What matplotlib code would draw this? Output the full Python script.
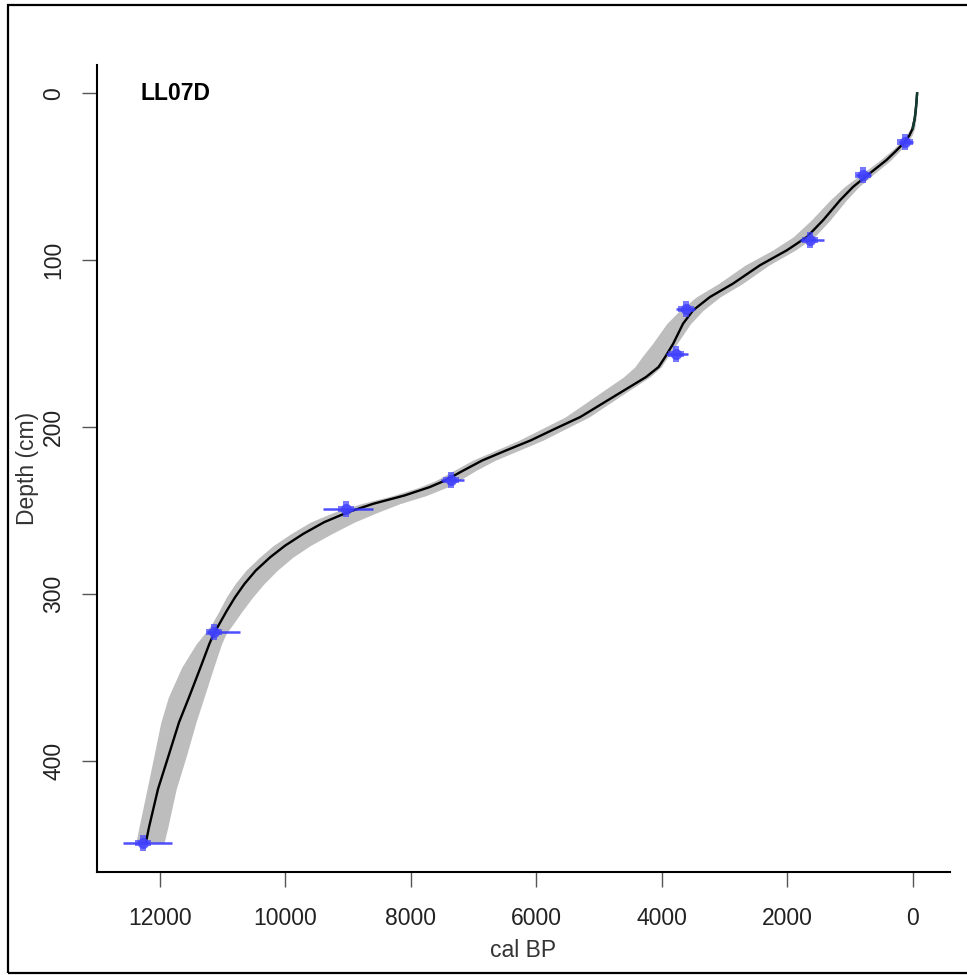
import matplotlib.pyplot as plt
import numpy as np
from matplotlib.patches import Rectangle

plt.rcParams['font.family'] = ['Liberation Sans', 'DejaVu Sans']

# age-depth model (depth in cm, age in cal BP)
model_depth = [0, 5, 10, 15, 21, 25, 29, 35, 40, 49, 56, 64, 76, 86, 94, 103, 114,
               122, 130, 138, 150, 158, 164, 170, 178, 186, 194, 201, 208, 214, 220,
               226, 232, 236, 241, 246, 251, 257, 264, 271, 278, 286, 294, 302, 310,
               318, 324, 330, 344, 362, 377, 398, 417, 440, 449]
model_age = [-70, -60, -48, -32, 0, 50, 123, 280, 420, 720, 950, 1157, 1428, 1685,
             2004, 2434, 2864, 3230, 3500, 3660, 3817, 3945, 4050, 4250, 4600, 4950,
             5300, 5700, 6090, 6480, 6860, 7160, 7450, 7700, 8100, 8600, 9000, 9380,
             9713, 10000, 10239, 10470, 10650, 10800, 10930, 11050, 11140, 11210,
             11350, 11534, 11693, 11868, 12028, 12172, 12220]
# envelope half-widths (years older / younger than the model)
env_older = [5, 10, 15, 25, 40, 50, 60, 80, 100, 120, 140, 160, 190, 220, 230, 240,
             230, 220, 210, 260, 330, 370, 380, 360, 320, 280, 240, 210, 190, 170,
             160, 150, 150, 160, 180, 200, 220, 220, 200, 190, 170, 160, 150, 140,
             120, 120, 150, 210, 300, 330, 290, 230, 175, 160, 160]
env_younger = [5, 10, 15, 20, 30, 40, 50, 60, 70, 80, 90, 100, 110, 120, 130, 140,
               150, 160, 160, 120, 60, 40, 40, 60, 80, 110, 140, 170, 190, 200, 200,
               200, 220, 280, 350, 420, 480, 480, 450, 400, 360, 340, 310, 280, 250,
               220, 195, 195, 210, 240, 270, 285, 290, 300, 290]

# dated samples
date_depth = [29, 49, 88, 129, 156, 232, 249, 323, 449]
date_age = [123, 790, 1635, 3608, 3768, 7364, 9035, 11137, 12267]
date_err_old = [90, 120, 160, 170, 170, 160, 370, 110, 320]
date_err_young = [120, 120, 220, 140, 180, 210, 430, 420, 470]

age = np.array(model_age)
fig = plt.figure(figsize=(9.67, 9.75), dpi=100)
ax = fig.add_axes([0.1003, 0.1056, 0.8821, 0.8277])

ax.fill_betweenx(model_depth, age - np.array(env_younger), age + np.array(env_older),
                 color='#bdbdbd', lw=0, zorder=1)
ax.plot(model_age, model_depth, color='black', lw=1.7, zorder=2, solid_joinstyle='round')
ax.plot(model_age[:5], model_depth[:5], color='#123c32', lw=1.7, zorder=2)
ax.errorbar(date_age, date_depth, xerr=[date_err_young, date_err_old], fmt='none',
            ecolor='#3030ff', elinewidth=1.8, capsize=0, alpha=0.85, zorder=3)
ax.plot(date_age, date_depth, 'o', color='#4040ff', ms=8, mew=0, alpha=0.8, zorder=4)
ax.plot(date_age, date_depth, 'P', color='#4040ff', ms=11, mew=0, alpha=0.7, zorder=4)

ax.set_xlim(13000, -594)
ax.set_ylim(466.7, -17)
ax.set_xticks([12000, 10000, 8000, 6000, 4000, 2000, 0])
ax.set_yticks([0, 100, 200, 300, 400])
for lab in ax.get_yticklabels():
    lab.set_rotation(90)
    lab.set_va('center')
ax.tick_params(labelsize=16.5, length=11, width=1, color='#555555', pad=14,
               labelcolor='#222222')
ax.tick_params(axis='y', pad=12)
for s in ['top', 'right']:
    ax.spines[s].set_visible(False)
for s in ['left', 'bottom']:
    ax.spines[s].set_linewidth(1.5)

ax.set_xlabel('cal BP', fontsize=16.5, color='#333333', labelpad=7)
ax.set_ylabel('Depth (cm)', fontsize=16.5, color='#333333')
ax.yaxis.set_label_coords(-0.068, 0.5)
ax.text(12300, 0, 'LL07D', fontsize=16.5, fontweight='bold', va='center', ha='left')

fig.patches.append(Rectangle((8 / 967, 2 / 975), 1.2, 1 - 7 / 975, transform=fig.transFigure,
                             fill=False, edgecolor='black', lw=1.6))

fig.savefig('out.png', dpi=100)
